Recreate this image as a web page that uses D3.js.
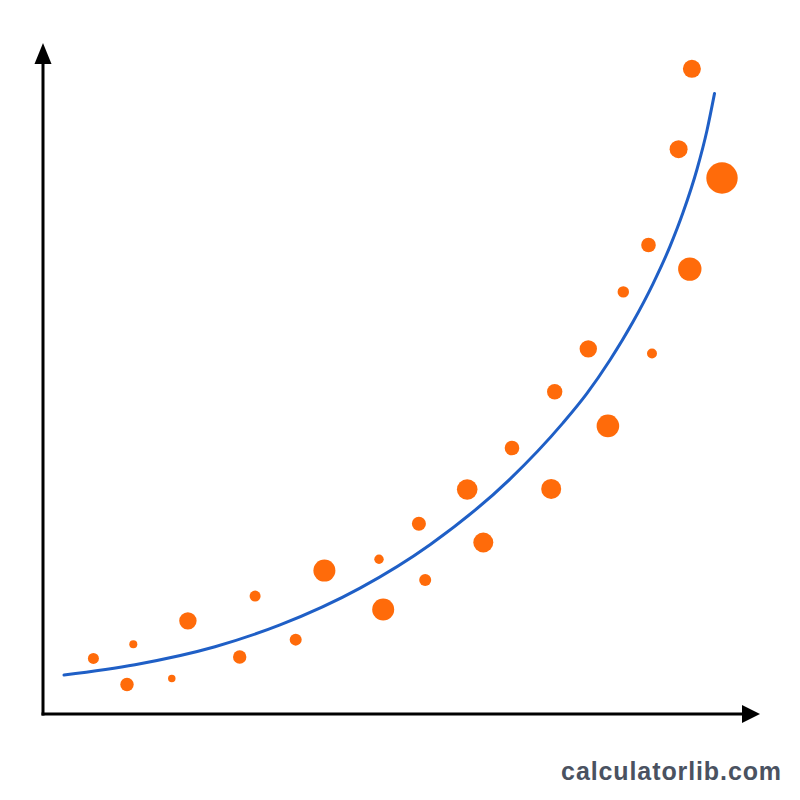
<!DOCTYPE html>
<html>
<head>
<meta charset="utf-8">
<script src="https://cdn.jsdelivr.net/npm/d3@7/dist/d3.min.js"></script>
<style>
  html, body { margin: 0; padding: 0; background: #ffffff; }
  svg { display: block; }
</style>
</head>
<body>
<svg id="chart" width="800" height="800"></svg>
<script>
// ---- data ----
const pointX = [7.2, 12.0, 12.9, 18.4, 20.7, 28.1, 30.3, 36.1, 40.2, 48.0, 48.6, 54.6, 53.7, 60.6, 62.9, 67.0, 72.6, 73.1, 80.7, 77.9, 87.0, 82.9, 86.5, 92.4, 90.8, 97.0, 92.7];
const pointY = [8.3, 4.4, 10.4, 5.3, 13.9, 8.5, 17.6, 11.1, 21.4, 23.1, 15.6, 20.0, 28.4, 33.5, 25.6, 39.7, 33.6, 48.1, 43.0, 54.5, 53.8, 63.0, 70.0, 66.4, 84.3, 80.0, 96.3];
const pointSize = [12.3, 18.2, 6.5, 5.6, 30.7, 18.2, 12.3, 14.6, 49.1, 9.0, 49.1, 14.6, 19.9, 43.0, 40.6, 21.6, 40.6, 24.0, 51.8, 30.7, 10.1, 13.2, 21.6, 55.5, 32.9, 100, 32.9];

// trend curve
const trendX = [3.0, 13.14, 24.57, 33.86, 45.29, 55.29, 66.71, 74.29, 77.71, 81.0, 84.29, 87.14, 89.57, 91.43, 93.43, 94.86, 95.93];
const trendY = [5.82, 7.36, 10.04, 13.30, 18.79, 25.27, 35.06, 43.45, 47.85, 52.84, 58.54, 64.21, 69.79, 74.84, 81.31, 87.13, 92.61];

const watermark = "calculatorlib.com";

// ---- layout ----
const svg = d3.select("#chart");
const x = d3.scaleLinear().domain([0, 100]).range([43, 743]);
const y = d3.scaleLinear().domain([0, 100]).range([714, 44]);
const r = d3.scaleSqrt().domain([0, 100]).range([0, 15.7]);

svg.append("rect").attr("width", 800).attr("height", 800).attr("fill", "#ffffff");

// trend curve
const line = d3.line()
  .x(d => x(d[0]))
  .y(d => y(d[1]))
  .curve(d3.curveMonotoneX);
svg.append("path")
  .datum(trendX.map((v, i) => [v, trendY[i]]))
  .attr("d", line)
  .attr("fill", "none")
  .attr("stroke", "#1f5fc6")
  .attr("stroke-width", 3)
  .attr("stroke-linecap", "round")
  .attr("stroke-linejoin", "round");

// points
svg.append("g").selectAll("circle")
  .data(pointX.map((v, i) => ({ x: v, y: pointY[i], s: pointSize[i] })))
  .join("circle")
  .attr("cx", d => x(d.x))
  .attr("cy", d => y(d.y))
  .attr("r", d => r(d.s))
  .attr("fill", "#ff6b0a");

// axes with arrowheads
const x0 = x.range()[0], yBase = y.range()[0];
const axisG = svg.append("g");
axisG.append("line")
  .attr("x1", x0).attr("y1", yBase + 1.5)
  .attr("x2", x0).attr("y2", 60)
  .attr("stroke", "#000").attr("stroke-width", 3);
axisG.append("line")
  .attr("x1", x0 - 1.5).attr("y1", yBase)
  .attr("x2", 745).attr("y2", yBase)
  .attr("stroke", "#000").attr("stroke-width", 3);
axisG.append("path")
  .attr("d", `M${x0},43 L${x0 - 8.5},64 L${x0 + 8.5},64 Z`)
  .attr("fill", "#000");
axisG.append("path")
  .attr("d", `M760,${yBase} L742,${yBase - 9} L742,${yBase + 9} Z`)
  .attr("fill", "#000");

// watermark
svg.append("text")
  .attr("x", 782)
  .attr("y", 780)
  .attr("text-anchor", "end")
  .attr("font-family", "Liberation Sans, Arial, sans-serif")
  .attr("font-weight", "bold")
  .attr("font-size", 25)
  .attr("letter-spacing", "0.9px")
  .attr("fill", "#4a5261")
  .text(watermark);
</script>
</body>
</html>
